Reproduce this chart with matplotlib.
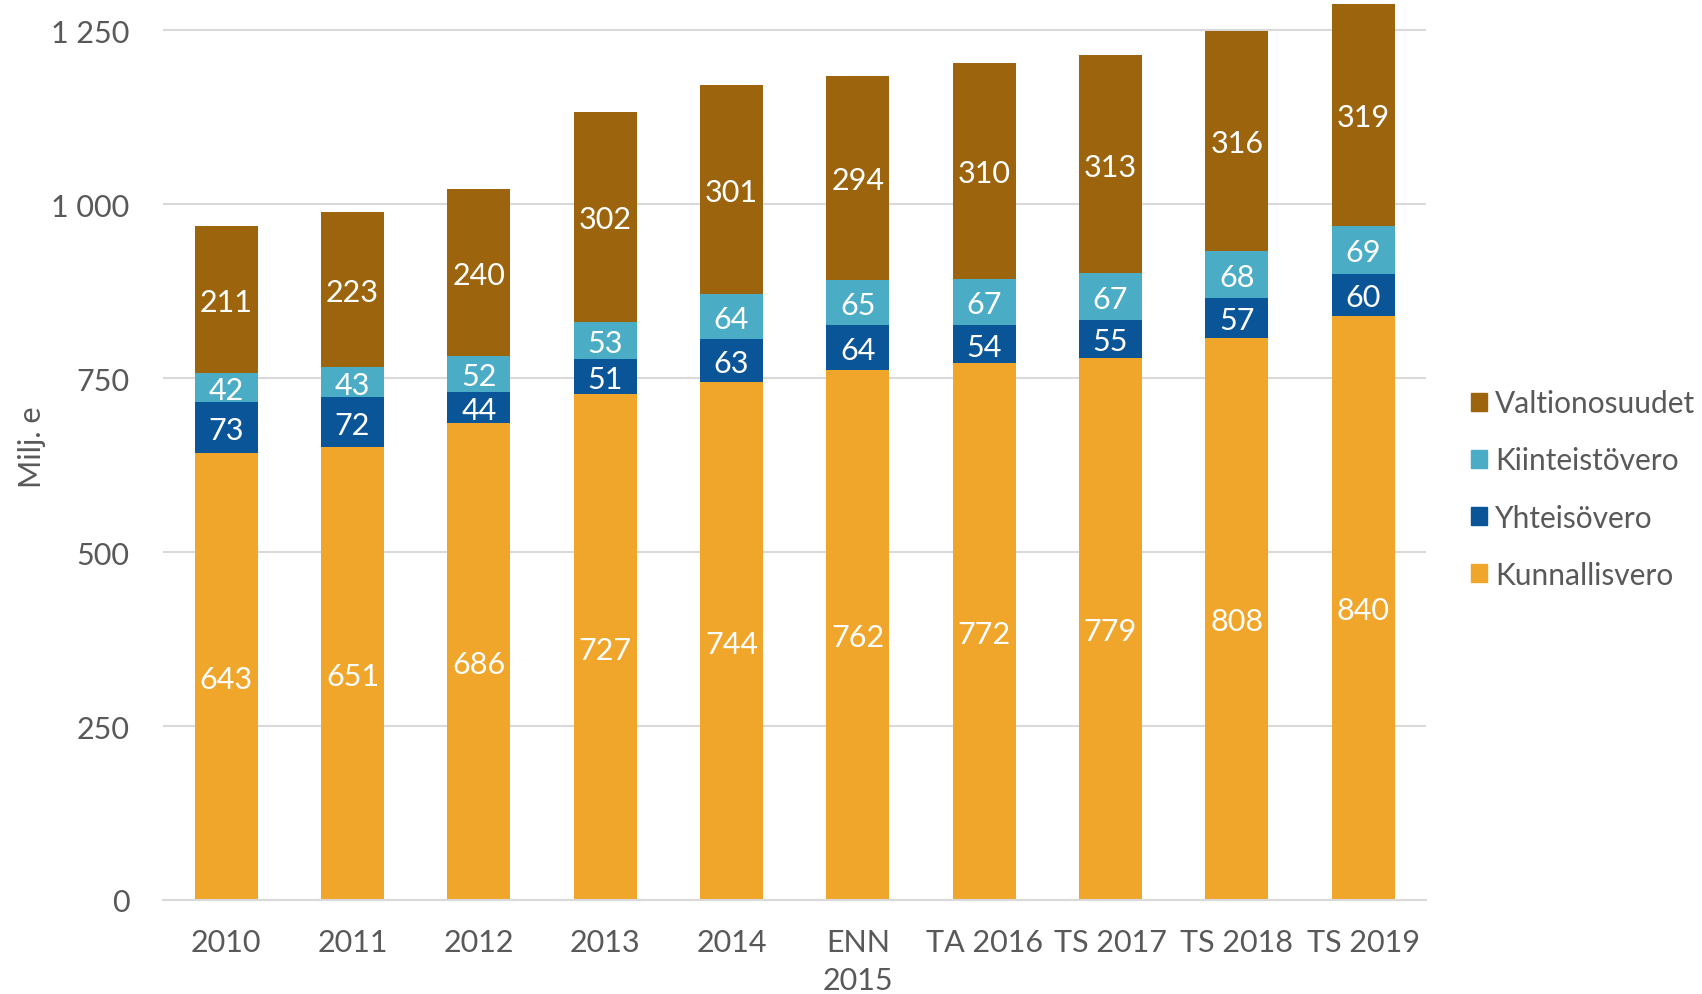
import numpy as np
import matplotlib.pyplot as plt
from matplotlib.patches import Patch

plt.rcParams['font.family'] = ['Liberation Sans Narrow', 'Lato', 'DejaVu Sans']

# Data (Milj. e)
categories = ['2010', '2011', '2012', '2013', '2014', 'ENN\n2015',
              'TA 2016', 'TS 2017', 'TS 2018', 'TS 2019']
kunnallisvero = [643, 651, 686, 727, 744, 762, 772, 779, 808, 840]
yhteisovero = [73, 72, 44, 51, 63, 64, 54, 55, 57, 60]
kiinteistovero = [42, 43, 52, 53, 64, 65, 67, 67, 68, 69]
valtionosuudet = [211, 223, 240, 302, 301, 294, 310, 313, 316, 319]

series = [('Kunnallisvero', kunnallisvero, '#F0A62B'),
          ('Yhteisövero', yhteisovero, '#0A5597'),
          ('Kiinteistövero', kiinteistovero, '#4BACC6'),
          ('Valtionosuudet', valtionosuudet, '#9C640C')]

grey = '#595959'
fs = 22

fig = plt.figure(figsize=(17.02, 9.95), dpi=100)
ax = fig.add_axes([0.0958, 0.0945, 0.7422, 0.9055])

x = np.arange(len(categories))
bottom = np.zeros(len(categories))
for name, vals, col in series:
    vals = np.array(vals)
    ax.bar(x, vals, 0.5, bottom=bottom, color=col, label=name, zorder=3)
    for xi, b, v in zip(x, bottom, vals):
        ax.text(xi, b + v / 2, str(v), ha='center', va='center_baseline',
                color='white', fontsize=fs, zorder=4)
    bottom += vals

ax.set_xlim(-0.5, len(categories) - 0.5)
ax.set_ylim(0, 1295)
ax.set_yticks([0, 250, 500, 750, 1000, 1250])
ax.set_yticklabels(['0', '250', '500', '750', '1 000', '1 250'])
ax.set_xticks(x)
ax.set_xticklabels(categories, linespacing=1.45)
ax.tick_params(axis='both', length=0, labelsize=fs, colors=grey)
ax.tick_params(axis='x', pad=20)
ax.tick_params(axis='y', pad=24)
ax.yaxis.grid(True, color='#D9D9D9', linewidth=1.5, zorder=0)
for s in ['top', 'right', 'left']:
    ax.spines[s].set_visible(False)
ax.spines['bottom'].set_color('#D9D9D9')
ax.spines['bottom'].set_linewidth(1.5)
ax.spines['bottom'].set_zorder(5)

fig.text(0.019, 0.55, 'Milj. e', rotation=90, ha='center', va='center',
         fontsize=fs, color=grey)

handles = [Patch(color=c) for _, _, c in series[::-1]]
labels = [n for n, _, _ in series[::-1]]
fig.legend(handles, labels, loc='center left', bbox_to_anchor=(0.864, 0.5075),
           frameon=False, fontsize=21.5, labelcolor=grey, handlelength=0.55,
           handleheight=0.55, handletextpad=0.28, labelspacing=0.98,
           borderaxespad=0, borderpad=0)

fig.savefig('out.png', dpi=100)
